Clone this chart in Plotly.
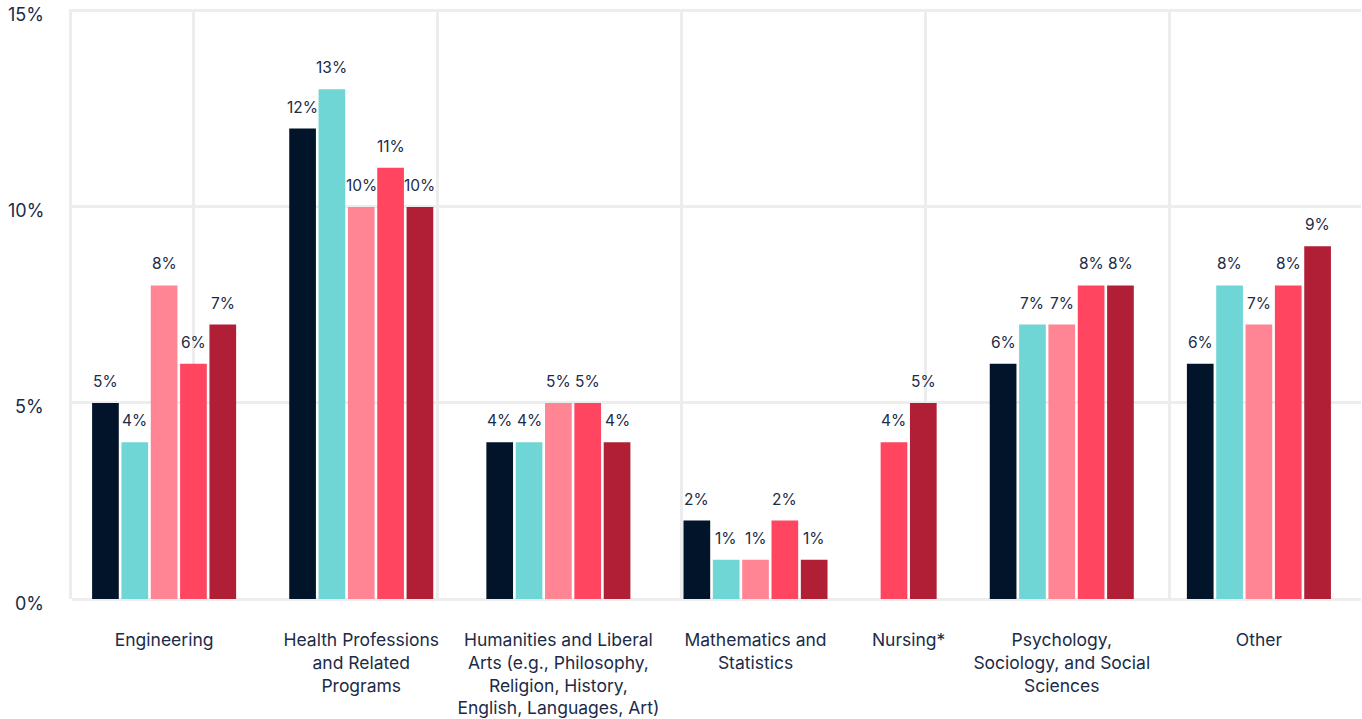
import plotly.graph_objects as go

categories = [
    "Engineering",
    "Health Professions<br>and Related<br>Programs",
    "Humanities and Liberal<br>Arts (e.g., Philosophy,<br>Religion, History,<br>English, Languages, Art)",
    "Mathematics and<br>Statistics",
    "Nursing*",
    "Psychology,<br>Sociology, and Social<br>Sciences",
    "Other",
]

series_names = ["Series 1", "Series 2", "Series 3", "Series 4", "Series 5"]
series_1 = [5, 12, 4, 2, None, 6, 6]
series_2 = [4, 13, 4, 1, None, 7, 8]
series_3 = [8, 10, 5, 1, None, 7, 7]
series_4 = [6, 11, 5, 2, 4, 8, 8]
series_5 = [7, 10, 4, 1, 5, 8, 9]
all_series = [series_1, series_2, series_3, series_4, series_5]

y_ticks = [0, 5, 10, 15]
y_ticktext = ["0%", "5%", "10%", "15%"]

colors = ["#011429", "#6fd6d5", "#ff8595", "#ff4560", "#b01f36"]
text_color = "#1b2b48"
grid_color = "#ededed"

# lay bars side by side, empty slots are dropped so each group is packed
GAP = 1.72
BAR_W = 0.91
xs = [[None] * len(categories) for _ in all_series]
centers = []
pos = 0.0
for ci in range(len(categories)):
    start = pos
    for si, s in enumerate(all_series):
        if s[ci] is not None:
            xs[si][ci] = pos + 0.5
            pos += 1
    centers.append((start + pos) / 2)
    pos += GAP
x_range = [-0.64, pos - GAP + 0.98]

fig = go.Figure()
annotations = []
for si, s in enumerate(all_series):
    px = [x for x, v in zip(xs[si], s) if v is not None]
    py = [v for v in s if v is not None]
    fig.add_trace(go.Bar(
        x=px, y=py, width=BAR_W, name=series_names[si],
        marker=dict(color=colors[si], line=dict(width=0)),
        hovertemplate="%{y}%<extra>" + series_names[si] + "</extra>",
    ))
    for x, v in zip(px, py):
        annotations.append(dict(
            x=x, y=v, xref="x", yref="y", text="%d%%" % v, showarrow=False,
            yanchor="bottom", yshift=10, font=dict(size=15.5, color=text_color),
        ))

# y tick labels sit a little below their grid lines
for v, t in zip(y_ticks, y_ticktext):
    annotations.append(dict(
        x=0, y=v, xref="paper", yref="y", text=t, showarrow=False,
        xanchor="right", yanchor="middle", xshift=-26, yshift=-4,
        font=dict(size=18, color=text_color),
    ))

# helper trace so the overlay axis (vertical grid) is drawn
fig.add_trace(go.Scatter(x=[None], y=[None], xaxis="x2", showlegend=False,
                         hoverinfo="skip", mode="markers"))

fig.update_layout(
    width=1362, height=719,
    margin=dict(l=72, r=1, t=9, b=116),
    paper_bgcolor="white", plot_bgcolor="white",
    barmode="overlay",
    showlegend=False,
    font=dict(family="Inter, 'Noto Sans', sans-serif", color=text_color),
    annotations=annotations,
    xaxis=dict(
        range=x_range, tickvals=centers, ticktext=categories,
        showgrid=False, zeroline=False, showline=False,
        ticks="outside", ticklen=25, tickcolor="rgba(0,0,0,0)",
        tickfont=dict(size=17.5, color=text_color),
    ),
    xaxis2=dict(
        overlaying="x", anchor="y", range=[0, 1289], tick0=121, dtick=244,
        showgrid=True, gridcolor=grid_color, gridwidth=3,
        showticklabels=False, zeroline=False, showline=False, ticks="",
    ),
    yaxis=dict(
        range=[0, 15.05], tickvals=y_ticks, showticklabels=False,
        showgrid=True, gridcolor=grid_color, gridwidth=3,
        zeroline=True, zerolinecolor=grid_color, zerolinewidth=3,
        showline=True, linecolor=grid_color, linewidth=3,
        ticks="",
    ),
)

# pin the figure to the top-left corner so it fills the window exactly
pin = (
    "document.body.style.margin='0';"
    "var gd=document.getElementById('{plot_id}');"
    "gd.style.position='absolute';gd.style.top='0';gd.style.left='0';"
)
fig.write_html("out.html", config={"displayModeBar": False}, post_script=pin)
